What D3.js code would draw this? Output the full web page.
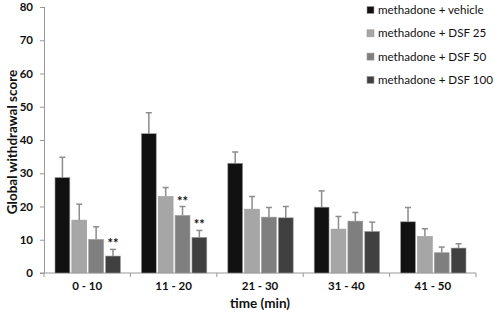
<!DOCTYPE html>
<html>
<head>
<meta charset="utf-8">
<script src="https://cdn.jsdelivr.net/npm/d3@7"></script>
<style>
  body { margin: 0; background: #fff; }
  text { font-family: Lato, "Open Sans", sans-serif; fill: #111; }
</style>
</head>
<body>
<svg id="chart" width="500" height="317"></svg>
<script>
// Data
const timeBins = ['0 - 10', '11 - 20', '21 - 30', '31 - 40', '41 - 50'];
const groups = ['methadone + vehicle', 'methadone + DSF 25', 'methadone + DSF 50', 'methadone + DSF 100'];
const vehicle = [28.7, 41.9, 33.0, 19.8, 15.4];
const dsf25 = [15.9, 23.0, 19.2, 13.2, 11.0];
const dsf50 = [10.1, 17.3, 16.8, 15.6, 6.1];
const dsf100 = [5.1, 10.7, 16.6, 12.5, 7.5];
const vehicleErr = [6.1, 6.3, 3.4, 4.9, 4.3];
const dsf25Err = [4.8, 2.7, 3.8, 3.8, 2.3];
const dsf50Err = [3.8, 2.7, 2.9, 2.6, 1.7];
const dsf100Err = [2.0, 2.1, 3.4, 2.8, 1.3];
const stars = [[], [], [], []];
stars[2][1] = '**';
stars[3][0] = '**';
stars[3][1] = '**';
const yTicks = [0, 10, 20, 30, 40, 50, 60, 70, 80];

const colors = ['#111111', '#a6a6a6', '#7f7f7f', '#404040'];
const seriesVals = [vehicle, dsf25, dsf50, dsf100];
const seriesErr = [vehicleErr, dsf25Err, dsf50Err, dsf100Err];

const width = 500, height = 317;
const margin = { top: 7, right: 24, bottom: 44, left: 44 };

const svg = d3.select('#chart');

const x = d3.scaleBand()
  .domain(timeBins)
  .range([margin.left, width - margin.right])
  .paddingInner(0)
  .paddingOuter(0);

const x1 = d3.scaleBand()
  .domain(groups)
  .range([11, x.bandwidth() - 10])
  .paddingInner(0.12);

const y = d3.scaleLinear()
  .domain([0, 80])
  .range([height - margin.bottom, margin.top]);

// Axes
const yAxis = svg.append('g')
  .attr('transform', `translate(${margin.left},0)`)
  .call(d3.axisLeft(y).tickValues(yTicks).tickSize(4).tickPadding(7));
yAxis.selectAll('line').attr('stroke', '#999');
yAxis.select('.domain').attr('stroke', '#999').attr('d', `M0.5,${y(80)}V${y(0)}`);
yAxis.selectAll('text').style('font-size', '11.5px').style('font-weight', 'bold');

const xAxis = svg.append('g')
  .attr('transform', `translate(0,${y(0)})`);
xAxis.append('line')
  .attr('x1', margin.left - 4).attr('x2', width - margin.right)
  .attr('stroke', '#999');
xAxis.selectAll('.bound')
  .data(timeBins.concat(['end']))
  .join('line')
  .attr('x1', (d, i) => i < timeBins.length ? x(d) : x(timeBins[timeBins.length - 1]) + x.bandwidth())
  .attr('x2', (d, i) => i < timeBins.length ? x(d) : x(timeBins[timeBins.length - 1]) + x.bandwidth())
  .attr('y1', 0).attr('y2', 4)
  .attr('stroke', '#999');
xAxis.selectAll('.lbl')
  .data(timeBins)
  .join('text')
  .attr('x', d => x(d) + x.bandwidth() / 2)
  .attr('y', 17)
  .attr('text-anchor', 'middle')
  .style('font-size', '11.5px')
  .style('font-weight', 'bold')
  .text(d => d);

// Axis titles
svg.append('text')
  .attr('x', 260)
  .attr('y', 308)
  .attr('text-anchor', 'middle')
  .style('font-size', '13.5px')
  .style('font-weight', 'bold')
  .text('time (min)');

svg.append('text')
  .attr('transform', `translate(17,${(y(0) + y(80)) / 2 + 2}) rotate(-90)`)
  .attr('text-anchor', 'middle')
  .style('font-size', '13.5px')
  .style('font-weight', 'bold')
  .text('Global withdrawal score');

// Bars
const barData = [];
groups.forEach((g, si) => {
  timeBins.forEach((t, ti) => {
    barData.push({ g, si, t, v: seriesVals[si][ti], e: seriesErr[si][ti], s: stars[si][ti] });
  });
});

const bars = svg.append('g');

// error bars (drawn first, upward only)
bars.selectAll('.err')
  .data(barData)
  .join('line')
  .attr('x1', d => x(d.t) + x1(d.g) + x1.bandwidth() / 2)
  .attr('x2', d => x(d.t) + x1(d.g) + x1.bandwidth() / 2)
  .attr('y1', d => y(d.v))
  .attr('y2', d => y(d.v + d.e))
  .attr('stroke', '#8c8c8c')
  .attr('stroke-width', 1.5);

bars.selectAll('.cap')
  .data(barData)
  .join('line')
  .attr('x1', d => x(d.t) + x1(d.g) + x1.bandwidth() / 2 - 3)
  .attr('x2', d => x(d.t) + x1(d.g) + x1.bandwidth() / 2 + 3)
  .attr('y1', d => y(d.v + d.e))
  .attr('y2', d => y(d.v + d.e))
  .attr('stroke', '#8c8c8c')
  .attr('stroke-width', 1.5);

bars.selectAll('rect')
  .data(barData)
  .join('rect')
  .attr('x', d => x(d.t) + x1(d.g))
  .attr('y', d => y(d.v))
  .attr('width', x1.bandwidth())
  .attr('height', d => y(0) - y(d.v))
  .attr('fill', d => colors[d.si])
  .attr('stroke', '#9a9a9a')
  .attr('stroke-width', 0.6);

bars.selectAll('.star')
  .data(barData.filter(d => d.s))
  .join('text')
  .attr('x', d => x(d.t) + x1(d.g) + x1.bandwidth() / 2)
  .attr('y', d => y(d.v + d.e) - 1)
  .attr('text-anchor', 'middle')
  .style('font-size', '13px')
  .style('font-weight', 'bold')
  .text(d => d.s);

// Legend
const legend = svg.append('g')
  .attr('transform', 'translate(367,10)');

groups.forEach((g, i) => {
  legend.append('rect')
    .attr('x', 0)
    .attr('y', i * 23.3 - 3.5)
    .attr('width', 7)
    .attr('height', 7)
    .attr('fill', colors[i])
    .attr('stroke', '#9a9a9a')
    .attr('stroke-width', 0.6);
  legend.append('text')
    .attr('x', 11)
    .attr('y', i * 23.3)
    .attr('dy', '0.35em')
    .style('font-size', '11.6px')
    .text(g);
});
</script>
</body>
</html>
